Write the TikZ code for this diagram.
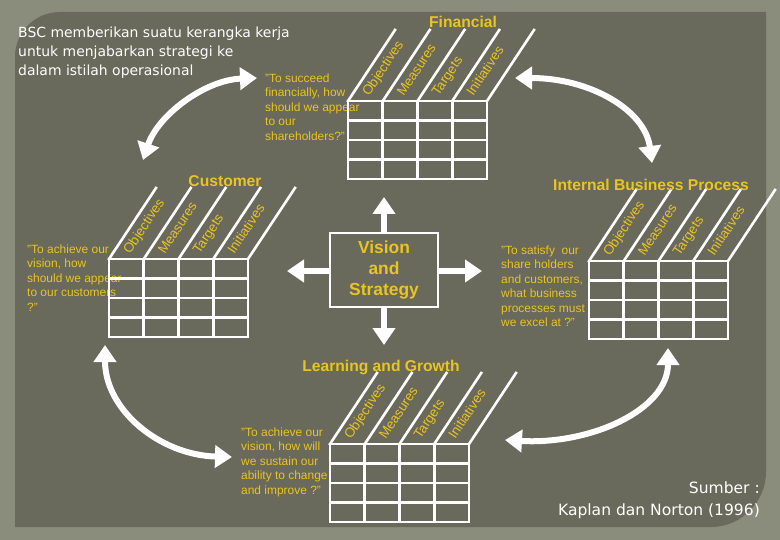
\documentclass[tikz,border=0pt]{standalone}
\usepackage{fontspec}
\setmainfont{Liberation Sans}
\newfontfamily\tahfont{DejaVu Sans}
\usetikzlibrary{arrows.meta}
\definecolor{outerbg}{RGB}{138,140,124}
\definecolor{panel}{RGB}{105,105,92}
\definecolor{bscy}{RGB}{234,196,32}
\tikzset{
 gridline/.style={white, line width=2.6bp, line cap=rect},
 collabel/.style={text=bscy, font=\fontsize{13.5}{14}\selectfont, rotate=56.5, anchor=base west, inner sep=0},
 quote/.style={text=bscy, font=\fontsize{12}{14.6}\selectfont, align=left, anchor=north west, inner sep=0},
 ptitle/.style={text=bscy, font=\bfseries\fontsize{15.7}{18}\selectfont, anchor=base, inner sep=0},
 bigarrow/.style={white, line width=6bp, -{Triangle[width=22bp,length=17bp]}},
 dblarrow/.style={white, line width=6bp, {Triangle[width=22bp,length=17bp]}-{Triangle[width=22bp,length=17bp]}},
 whitetext/.style={text=white, font=\tahfont\fontsize{14}{19}\selectfont, inner sep=0},
 srctext/.style={text=white, font=\tahfont\fontsize{15.6}{21}\selectfont, inner sep=0, anchor=base east},
 visionbox/.style={draw=white, line width=1.2bp, minimum width=108bp, minimum height=74bp, inner sep=0,
   text=bscy, font=\bfseries\fontsize{17.5}{21}\selectfont, align=center}
}
\newcommand\bsctable[3]{%
 \begin{scope}[shift={(#2,#3)}]
  \coordinate (#1) at (0,0);
  \foreach \i in {0,...,4}{%
    \draw[gridline] (\i*34.75,0) -- (\i*34.75,78);
    \draw[gridline] (\i*34.75,0) -- ++(47,-71);}
  \foreach \j in {0,...,4}{\draw[gridline] (0,\j*19.5) -- (139,\j*19.5);}
  \node[collabel] (#1-o) at (21,-4) {Objectives};
  \node[collabel] (#1-m) at (34.75+21,-4) {Measures};
  \node[collabel] (#1-t) at (69.5+21,-4) {Targets};
  \node[collabel] (#1-i) at (104.25+21,-4) {Initiatives};
 \end{scope}}
\begin{document}
\begin{tikzpicture}[x=1bp,y=-1bp]
\useasboundingbox (0,0) rectangle (780,540);
\fill[outerbg] (0,0) rectangle (780,540);
\fill[panel] (15,527) -- (15,57) .. controls (15,32) and (35,12) .. (60,12) -- (766,12)
  -- (766,472) .. controls (766,502) and (741,527) .. (711,527) -- cycle;

% top-left text
\node[whitetext, anchor=base west] (t1) at (18,38) {BSC memberikan suatu kerangka kerja};
\node[whitetext, anchor=base west] (t2) at (18,57) {untuk menjabarkan strategi ke};
\node[whitetext, anchor=base west] (t3) at (18,76) {dalam istilah operasional};

% quotes
\node[quote] (qf) at (265,73.2) {"To succeed\\financially, how\\should we appear\\to our\\shareholders?"};
\node[quote] (qc) at (27,244.2) {"To achieve our\\vision, how\\should we appear\\to our customers\\?"};
\node[quote] (qi) at (501,245.2) {"To satisfy\ \ our\\share holders\\and customers,\\what business\\processes must\\we excel at ?"};
\node[quote] (ql) at (241,427.2) {"To achieve our\\vision, how will\\we sustain our\\ability to change\\and improve ?"};

% tables
\bsctable{fin}{348}{101}
\bsctable{cus}{109}{259}
\bsctable{ibp}{589}{261}
\bsctable{lg}{330}{444}

% titles
\node[ptitle] (tf) at (463,28) {Financial};
\node[ptitle] (tc) at (225,187) {Customer};
\node[ptitle] (ti) at (651,191) {Internal Business Process};
\node[ptitle] (tl) at (381,371) {Learning and Growth};

% vision
\node[visionbox] (vs) at (384,270) {Vision\\and\\Strategy};
\coordinate (vU) at (384,197);
\coordinate (vD) at (384,345);
\coordinate (vL) at (287,271);
\coordinate (vR) at (482,271);
\draw[bigarrow] (vs.north) -- (vU);
\draw[bigarrow] (vs.south) -- (vD);
\draw[bigarrow] (vs.west |- vL) -- (vL);
\draw[bigarrow] (vs.east |- vR) -- (vR);

% curved arrows
\coordinate (a1) at (143,160);
\coordinate (a2) at (257,78);
\coordinate (b1) at (515,78);
\coordinate (b2) at (652,163);
\coordinate (c1) at (105,345);
\coordinate (c2) at (232,457);
\coordinate (d1) at (505,440);
\coordinate (d2) at (668,348);
\draw[dblarrow] (a1) .. controls (158,115) and (205,80) .. (a2);
\draw[dblarrow] (b1) .. controls (590,78) and (645,110) .. (b2);
\draw[dblarrow] (c1) .. controls (105,410) and (160,455) .. (c2);
\draw[dblarrow] (d1) .. controls (590,445) and (668,410) .. (d2);

% source
\node[srctext] (s1) at (760,493) {Sumber :};
\node[srctext] (s2) at (760,515) {Kaplan dan Norton (1996)};
\end{tikzpicture}
\end{document}
